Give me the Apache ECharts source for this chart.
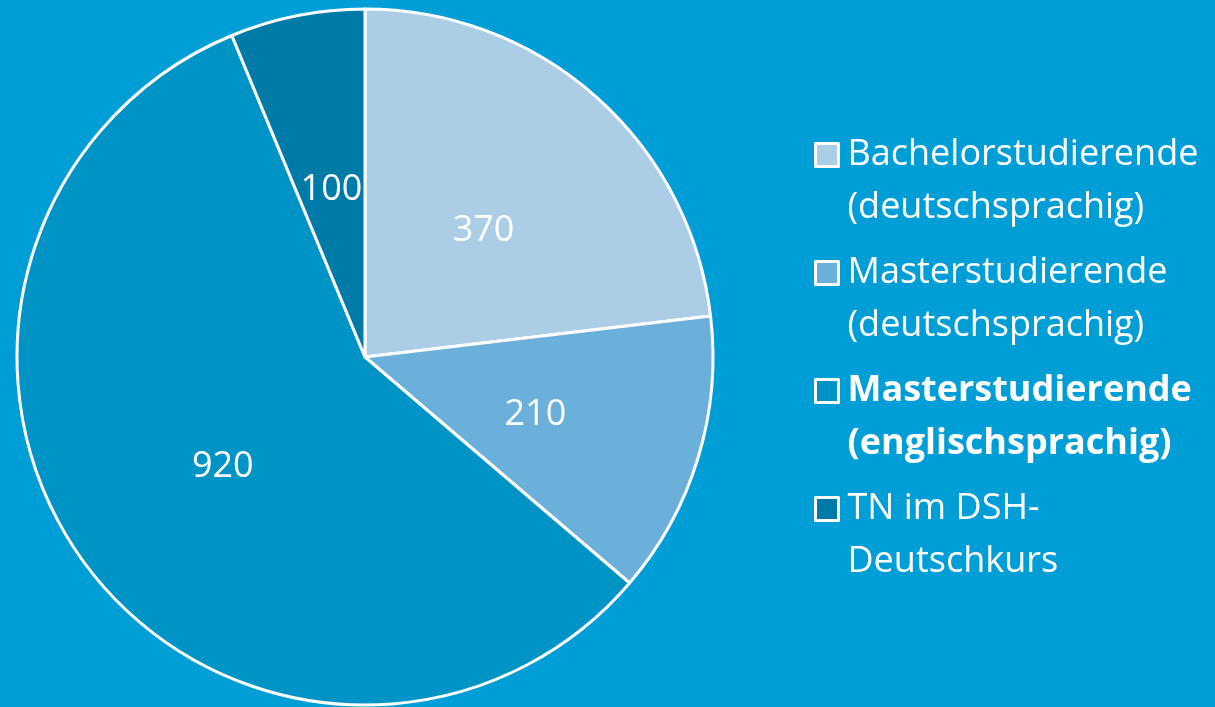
<!DOCTYPE html>
<html>
<head>
<meta charset="utf-8">
<script src="https://cdn.jsdelivr.net/npm/echarts@6/dist/echarts.min.js"></script>
<style>
html,body{margin:0;padding:0;background:#009ED6;}
#chart{width:1215px;height:707px;}
</style>
</head>
<body>
<div id="chart"></div>
<script>
const categories = [
  'Bachelorstudierende\n(deutschsprachig)',
  'Masterstudierende\n(deutschsprachig)',
  'Masterstudierende\n(englischsprachig)',
  'TN im DSH-\nDeutschkurs'
];
const values = [370, 210, 920, 100];
const colors = ['#ABCEE6', '#6BB0DA', '#0093C5', '#007BA7'];
const boldCategory = 'Masterstudierende\n(englischsprachig)';

const FONT = '"Open Sans", "Noto Sans", sans-serif';
const chart = echarts.init(document.getElementById('chart'), null, {renderer: 'canvas'});
chart.setOption({
  backgroundColor: '#009ED6',
  animation: false,
  color: colors,
  legend: {
    orient: 'vertical',
    left: 809,
    top: 132,
    itemWidth: 23,
    itemHeight: 23,
    itemGap: 29,
    icon: 'rect',
    selectedMode: false,
    data: categories,
    itemStyle: {borderColor: '#ffffff', borderWidth: 3},
    textStyle: {
      color: '#ffffff',
      fontFamily: FONT,
      fontSize: 36,
      padding: [53, 0, 0, 4],
      rich: {
        n: {color: '#ffffff', fontFamily: FONT, fontSize: 36, lineHeight: 53},
        b: {color: '#ffffff', fontFamily: FONT, fontSize: 36, lineHeight: 53, fontWeight: 'bold'}
      }
    },
    formatter: function (name) {
      const tag = name === boldCategory ? 'b' : 'n';
      return name.split('\n').map(l => '{' + tag + '|' + l + '}').join('\n');
    }
  },
  series: [{
    type: 'pie',
    center: [365, 357],
    radius: [0, 348],
    startAngle: 90,
    clockwise: true,
    avoidLabelOverlap: false,
    itemStyle: {borderColor: '#ffffff', borderWidth: 3},
    label: {
      show: true,
      position: 'inside',
      formatter: '{c}',
      color: '#ffffff',
      fontFamily: FONT,
      fontSize: 36,
      offset: [1, 6]
    },
    labelLine: {show: false},
    emphasis: {disabled: true},
    data: categories.map((c, i) => ({name: c, value: values[i]}))
  }]
});
</script>
</body>
</html>
